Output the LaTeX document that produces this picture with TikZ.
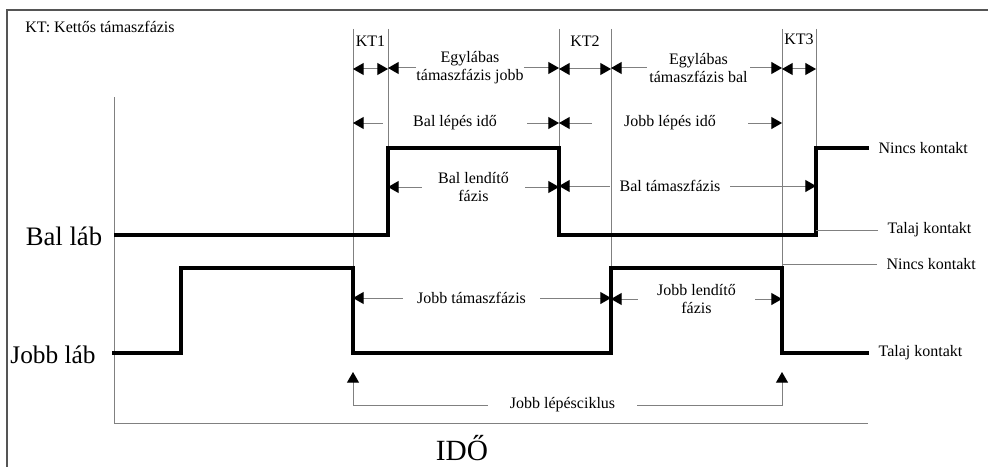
\documentclass[tikz,border=0pt]{standalone}
\usepackage{fontspec}
\setmainfont{Liberation Serif}
\usetikzlibrary{arrows.meta}
\definecolor{guidegray}{HTML}{808080}
\definecolor{framegray}{HTML}{555555}
\tikzset{
  lbl/.style = {font=\fontsize{12}{13.5}\selectfont, align=center, inner sep=0pt},% small labels
  spanlbl/.style = {lbl, minimum width=#1*0.75pt},% label between two arrows
  side/.style = {lbl, anchor=west, inner xsep=7pt},% contact labels on the right
  big/.style = {font=\fontsize{19}{21}\selectfont, inner sep=0pt},
  sig/.style = {line width=3pt, black},% foot signal
  guide/.style = {guidegray, line width=0.75pt},
  dim/.style = {guide, ->},
  frame/.style = {framegray, line width=1.1pt}
}
\begin{document}
\begin{tikzpicture}[x=0.75pt,y=-0.75pt,>={Triangle[length=8pt,width=9pt,color=black]}]
\useasboundingbox (0,0) rectangle (988,467);
\draw[frame] (7,467) -- (7,10) -- (988,10);

% phase boundaries
\coordinate (k1a) at (353,29);
\coordinate (k1b) at (388,29);
\coordinate (k2a) at (559,29);
\coordinate (k2b) at (611,29);
\coordinate (k3a) at (782,29);
\coordinate (k3b) at (816,29);
% arrow rows
\coordinate (r1) at (0,69);
\coordinate (r2) at (0,123);
\coordinate (r3) at (0,186);
\coordinate (r4) at (0,298);
\coordinate (r5) at (0,372);

\draw[guide] (k1a) -- (353,268);
\draw[guide] (k1b) -- (388,148);
\draw[guide] (k2a) -- (559,148);
\draw[guide] (k2b) -- (611,268);
\draw[guide] (k3a) -- (782,268);
\draw[guide] (k3b) -- (816,148);

% axes
\draw[guide] (114,97) -- (114,423) -- (868,423);

% texts
\node[lbl, anchor=west] (note) at (25,27) {KT: Kettős támaszfázis};
\node[lbl] (kt1) at (370.5,41) {KT1};
\node[lbl] (kt2) at (585,41) {KT2};
\node[lbl] (kt3) at (799,39) {KT3};
\node[big, font=\fontsize{20}{22}\selectfont] (bal) at (64,236) {Bal láb};
\node[big] (jobb) at (53,355) {Jobb láb};
\node[big, font=\fontsize{22}{24}\selectfont] (ido) at (462,448) {IDŐ};

\node[side] (bnk) at (869,148) {Nincs kontakt};
\node[side] (btk) at (878,230) {Talaj kontakt};
\node[side] (jnk) at (877,264) {Nincs kontakt};
\node[side] (jtk) at (869,353) {Talaj kontakt};

% feet
\draw[sig] (114,235) -- (388,235) -- (388,148) -- (559,148) -- (559,235)
  -- (816,235) -- (816,148) -- (bnk.west);
\draw[sig] (112,353) -- (181,353) -- (181,268) -- (353,268) -- (353,353)
  -- (611,353) -- (611,268) -- (782,268) -- (782,353) -- (jtk.west);
\draw[guide] (btk.west) -- (btk -| k3b);
\draw[guide] (jnk.west) -- (jnk -| k3a);

% double support
\draw[dim, <->] (k1a |- r1) -- (k1b |- r1);
\draw[dim, <->] (k2a |- r1) -- (k2b |- r1);
\draw[dim, <->] (k3a |- r1) -- (k3b |- r1);

% single support
\node[spanlbl=106] (egyj) at (470,68) {Egylábas\\támaszfázis jobb};
\draw[dim] (egyj.west) -- (egyj.west -| k1b);
\draw[dim] (egyj.east) -- (egyj.east -| k2a);
\node[spanlbl=103] (egyb) at (698.5,68) {Egylábas\\támaszfázis bal};
\draw[dim] (egyb.west) -- (egyb.west -| k2b);
\draw[dim] (egyb.east) -- (egyb.east -| k3a);

% step times
\node[spanlbl=144] (bli) at (455,123) {Bal lépés idő};
\draw[dim] (bli.west) -- (bli.west -| k1a);
\draw[dim] (bli.east) -- (bli.east -| k2a);
\node[spanlbl=156] (jli) at (670,123) {Jobb lépés idő};
\draw[dim] (jli.west) -- (jli.west -| k2a);
\draw[dim] (jli.east) -- (jli.east -| k3a);

% left foot phases
\node[spanlbl=103] (blf) at (473.5,187) {Bal lendítő\\fázis};
\draw[dim] (blf.west) -- (blf.west -| k1b);
\draw[dim] (blf.east) -- (blf.east -| k2a);
\node[spanlbl=120] (btf) at (670,186) {Bal támaszfázis};
\draw[dim] (btf.west) -- (btf.west -| k2a);
\draw[dim] (btf.east) -- (btf.east -| k3b);

% right foot phases
\node[spanlbl=137] (jtf) at (471.5,298) {Jobb támaszfázis};
\draw[dim] (jtf.west) -- (jtf.west -| k1a);
\draw[dim] (jtf.east) -- (jtf.east -| k2b);
\node[spanlbl=117] (jlf) at (696.5,299) {Jobb lendítő\\fázis};
\draw[dim] (jlf.west) -- (jlf.west -| k2b);
\draw[dim] (jlf.east) -- (jlf.east -| k3a);

% gait cycle
\node[spanlbl=149] (cyc) at (562.5,405) {Jobb lépésciklus};
\draw[dim] (cyc.west) -| (k1a |- r5);
\draw[dim] (cyc.east) -| (k3a |- r5);
\end{tikzpicture}
\end{document}
